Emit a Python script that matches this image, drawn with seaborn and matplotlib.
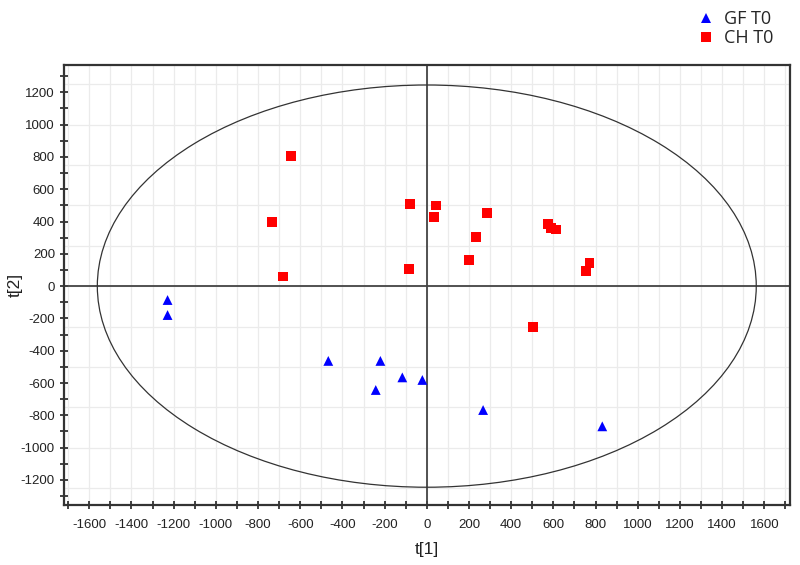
import numpy as np
import pandas as pd
import matplotlib
matplotlib.use('Agg')
import matplotlib.pyplot as plt
from matplotlib.patches import Ellipse
from matplotlib.ticker import MultipleLocator
import seaborn as sns

# scores
gf_t1 = [-1229, -1229, -467, -220, -242, -116, -21, 267, 832]
gf_t2 = [-86, -179, -463, -463, -643, -565, -581, -767, -868]

ch_t1 = [-644, -733, -682, -80, -84, 42, 36, 284, 235, 200, 573, 587, 611, 771, 753, 502]
ch_t2 = [807, 399, 59, 507, 108, 499, 429, 451, 306, 164, 385, 362, 350, 141, 92, -251]

groups = ['GF T0', 'CH T0']
ellipse_half_axes = (1562, 1245)   # Hotelling T2 ellipse

df = pd.DataFrame({
    't1': gf_t1 + ch_t1,
    't2': gf_t2 + ch_t2,
    'group': [groups[0]] * len(gf_t1) + [groups[1]] * len(ch_t1),
})

sns.set_theme(style="white")
plt.rcParams['font.family'] = ['Liberation Sans', 'DejaVu Sans']
plt.rcParams['axes.unicode_minus'] = False

fig = plt.figure(figsize=(8, 5.65), dpi=100)
ax = fig.add_axes([0.08, 0.1062, 0.9075, 0.7788])

# grid: vertical every 100, horizontal every 250
for gx in np.arange(-1700, 1701, 100):
    ax.axvline(gx, color='#ebebeb', lw=0.9, zorder=0)
for gy in np.arange(-1250, 1251, 250):
    ax.axhline(gy, color='#ebebeb', lw=0.9, zorder=0)

ax.axhline(0, color='#444444', lw=1.3, zorder=1)
ax.axvline(0, color='#444444', lw=1.3, zorder=1)
ax.add_patch(Ellipse((0, 0), 2 * ellipse_half_axes[0], 2 * ellipse_half_axes[1],
                     fill=False, ec='#333333', lw=0.9, zorder=1))

sns.scatterplot(data=df, x='t1', y='t2', hue='group', style='group',
                hue_order=groups, style_order=groups,
                palette={'GF T0': '#0000ff', 'CH T0': '#ff0000'},
                markers={'GF T0': '^', 'CH T0': 's'},
                s=50, linewidth=0, ax=ax, zorder=3)

ax.set_xlim(-1720, 1722)
ax.set_ylim(-1355, 1369)
ax.xaxis.set_major_locator(MultipleLocator(200))
ax.xaxis.set_minor_locator(MultipleLocator(100))
ax.yaxis.set_major_locator(MultipleLocator(200))
ax.yaxis.set_minor_locator(MultipleLocator(100))
ax.tick_params(which='both', direction='inout', length=6, width=1.2,
               color='#222222', labelsize=9.5, labelcolor='#222222',
               bottom=True, left=True)
ax.tick_params(axis='x', pad=7)
for side in ['left', 'bottom', 'right', 'top']:
    ax.spines[side].set_color('#333333')
    ax.spines[side].set_linewidth(1.6)

ax.set_xlabel('t[1]', fontsize=12.5, labelpad=8, color='#222222')
ax.set_ylabel('t[2]', fontsize=12.5, color='#222222')
ax.yaxis.set_label_coords(-0.057, 0.5)

handles, labels = ax.get_legend_handles_labels()
ax.legend(handles, labels, loc='upper left', bbox_to_anchor=(0.851, 0.995),
          bbox_transform=fig.transFigure, frameon=False,
          prop={'family': 'Open Sans', 'size': 13},
          handletextpad=0.0, labelspacing=0.05, borderaxespad=0.0)

fig.savefig('out.png', dpi=100)
